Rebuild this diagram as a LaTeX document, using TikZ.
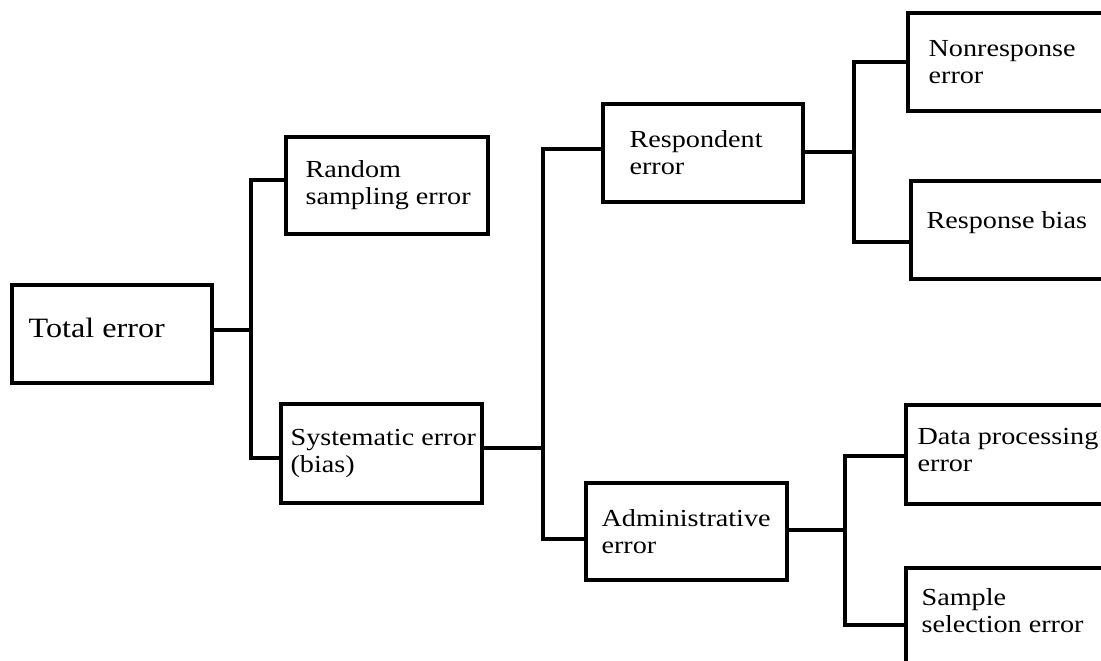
\documentclass[tikz,border=0pt]{standalone}
\usepackage{fontspec}
\setmainfont{Liberation Serif}
\usetikzlibrary{calc}
\newcommand\sx[1]{\scalebox{1.15}[1]{#1}}
\tikzset{
  box/.style={draw, line width=3.2pt, inner sep=0pt, line join=miter},
  txt/.style={anchor=west, inner sep=0pt, align=left, font=\fontsize{24.5}{27}\selectfont},
  bigtxt/.style={anchor=west, inner sep=0pt, align=left, font=\fontsize{28}{32}\selectfont},
  conn/.style={line width=3.2pt, line join=miter}
}
\begin{document}
\begin{tikzpicture}[x=1pt,y=-1pt]
\useasboundingbox (0,0) rectangle (1101,661);
\clip (0,0) rectangle (1101,661);
% boxes
\node[box, minimum width=200pt, minimum height=98pt] (tot) at (112,334) {};
\node[box, minimum width=202pt, minimum height=97pt] (rand) at (387,185.5) {};
\node[box, minimum width=201pt, minimum height=99pt] (sys) at (381.5,453.5) {};
\node[box, minimum width=200pt, minimum height=98pt] (resp) at (703,153) {};
\node[box, minimum width=201pt, minimum height=97pt] (adm) at (686.5,531.5) {};
\node[box, minimum width=207pt, minimum height=98pt] (nonr) at (1011.5,62) {};
\node[box, minimum width=204pt, minimum height=98pt] (rbias) at (1013,230) {};
\node[box, minimum width=209pt, minimum height=99pt] (data) at (1010.5,454.5) {};
\node[box, minimum width=209pt, minimum height=98pt] (samp) at (1010.5,617) {};
% texts
\node[bigtxt] (ttot) at ([xshift=18pt,yshift=6pt]tot.west) {\sx{Total error}};
\node[txt] (trand) at ([xshift=21pt]rand.west) {\sx{Random}\\\sx{sampling error}};
\node[txt] (tsys) at ([xshift=11pt]sys.west) {\sx{Systematic error}\\\sx{(bias)}};
\node[txt] (tresp) at ([xshift=28pt]resp.west) {\sx{Respondent}\\\sx{error}};
\node[txt] (tadm) at ([xshift=17pt]adm.west) {\sx{Administrative}\\\sx{error}};
\node[txt] (tnonr) at ([xshift=22pt]nonr.west) {\sx{Nonresponse}\\\sx{error}};
\node[txt] (trbias) at ([xshift=17pt,yshift=7pt]rbias.west) {\sx{Response bias}};
\node[txt] (tdata) at ([xshift=13pt,yshift=4pt]data.west) {\sx{Data processing}\\\sx{error}};
\node[txt] (tsamp) at ([xshift=17pt,yshift=6pt]samp.west) {\sx{Sample}\\\sx{selection error}};
% bus coordinates
\coordinate (bus1) at (251,0);
\coordinate (bus2) at (543,0);
\coordinate (bus3) at (854,0);
\coordinate (bus4) at (845,0);
% connectors
\draw[conn] ([yshift=4pt]tot.east) -- ([yshift=4pt]tot.east -| bus1);
\draw[conn] ([yshift=5.5pt]rand.west) -| ([yshift=-4.5pt]sys.west -| bus1) -- ([yshift=-4.5pt]sys.west);
\draw[conn] ([yshift=5.5pt]sys.east) -- ([yshift=5.5pt]sys.east -| bus2);
\draw[conn] ([yshift=4pt]resp.west) -| ([yshift=-7.5pt]adm.west -| bus2) -- ([yshift=-7.5pt]adm.west);
\draw[conn] ([yshift=1pt]resp.east) -- ([yshift=1pt]resp.east -| bus3);
\draw[conn] (nonr.west) -| ([yshift=-12pt]rbias.west -| bus3) -- ([yshift=-12pt]rbias.west);
\draw[conn] ([yshift=1.5pt]adm.east) -- ([yshift=1.5pt]adm.east -| bus4);
\draw[conn] ([yshift=-1.5pt]data.west) -| ([yshift=-8pt]samp.west -| bus4) -- ([yshift=-8pt]samp.west);
\end{tikzpicture}
\end{document}
